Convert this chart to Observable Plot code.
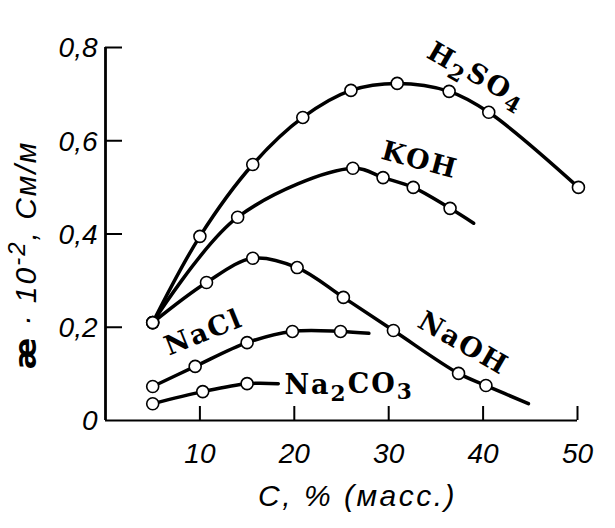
<!DOCTYPE html>
<html>
<head>
<meta charset="utf-8">
<script src="https://cdn.jsdelivr.net/npm/d3@7"></script>
<script src="https://cdn.jsdelivr.net/npm/@observablehq/plot@0.6"></script>
<style>
  html, body { margin: 0; padding: 0; background: #fff; }
  #chart { width: 615px; height: 528px; }
</style>
</head>
<body>
<div id="chart"></div>
<script>
// ---- data ----
const seriesNames = ["H2SO4", "KOH", "NaOH", "NaCl", "Na2CO3"];

const h2so4C = [5, 10, 15.6, 20.9, 26.0, 30.9, 36.4, 40.6, 50.1];
const h2so4K = [0.21, 0.395, 0.549, 0.650, 0.708, 0.723, 0.706, 0.661, 0.500];

const kohC = [5, 14.0, 26.2, 29.4, 32.6, 36.5];
const kohK = [0.21, 0.436, 0.541, 0.521, 0.500, 0.455];

const naohC = [5, 10.7, 15.6, 20.3, 25.2, 30.5, 37.4, 40.3];
const naohK = [0.21, 0.296, 0.348, 0.328, 0.264, 0.193, 0.101, 0.075];

const naclC = [5, 9.5, 15.0, 19.8, 24.9];
const naclK = [0.073, 0.116, 0.167, 0.191, 0.191];

const na2co3C = [5, 10.3, 15.0];
const na2co3K = [0.036, 0.062, 0.079];

// where each drawn curve continues past its last measured point
const lineEndC = [null, 39.0, 44.8, 27.9, 18.3];
const lineEndK = [null, 0.423, 0.036, 0.187, 0.079];

// curve labels (centre of each label)
const labelText = ["H_2SO_4", "KOH", "NaOH", "NaCl", "Na_2CO_3"];
const labelC = [39.3, 33.3, 37.9, 10.4, 25.8];
const labelK = [0.738, 0.558, 0.165, 0.189, 0.075];
const labelAngle = [30, 15, 30, -22, 0];

// axes
const xTicks = [10, 20, 30, 40, 50];
const yTicks = [0, 0.2, 0.4, 0.6, 0.8];
const xTitle = "C, % (масс.)";
const yTitle = "æ · 10^-2, См/м";

// ---- tables built from the arrays ----
const cols = [[h2so4C, h2so4K], [kohC, kohK], [naohC, naohK], [naclC, naclK], [na2co3C, na2co3K]];
const dots = [];
const lines = [];
cols.forEach(([cs, ks], i) => {
  cs.forEach((c, j) => {
    dots.push({series: seriesNames[i], C: c, K: ks[j]});
    lines.push({series: seriesNames[i], C: c, K: ks[j]});
  });
  if (lineEndC[i] != null) lines.push({series: seriesNames[i], C: lineEndC[i], K: lineEndK[i]});
});
const labels = labelText.map((t, i) => ({text: t, C: labelC[i], K: labelK[i], a: labelAngle[i]}));

const fmt = d => d === 0 ? "0" : String(d).replace(".", ",");
const sansIt = "'Liberation Sans Narrow', 'Liberation Sans', Arial, sans-serif";
const serif = "'DejaVu Serif', 'Liberation Serif', serif";

const plot = Plot.plot({
  width: 615,
  height: 528,
  marginLeft: 105,
  marginRight: 38,
  marginTop: 47,
  marginBottom: 108,
  x: {domain: [0, 50], axis: null},
  y: {domain: [0, 0.8], axis: null},
  marks: [
    // axis lines
    Plot.ruleX([0], {y1: 0, y2: 0.8, stroke: "black", strokeWidth: 2.8}),
    Plot.ruleY([0], {x1: 0, x2: 50, stroke: "black", strokeWidth: 2.2}),
    // inward ticks
    Plot.ruleY(yTicks.filter(d => d > 0), {x1: 0, x2: 1.8, stroke: "black", strokeWidth: 2}),
    Plot.ruleX(xTicks, {y1: 0, y2: 0.03, stroke: "black", strokeWidth: 2}),
    // tick labels
    Plot.text(yTicks, {x: 0, y: d => d, text: fmt, dx: -8, dy: 1, textAnchor: "end",
      fontSize: 28, fontStyle: "italic", fontFamily: sansIt, fill: "black"}),
    Plot.text(xTicks, {x: d => d, y: 0, text: d => String(d), dy: 34, fontSize: 28,
      fontStyle: "italic", fontFamily: sansIt, fill: "black"}),
    // curves
    Plot.line(lines, {x: "C", y: "K", z: "series", curve: "catmull-rom", stroke: "black", strokeWidth: 3.5}),
    Plot.dot(dots, {x: "C", y: "K", r: 6, fill: "white", stroke: "black", strokeWidth: 1.6}),
    // curve labels
    Plot.text(labels, {x: "C", y: "K", text: "text", rotate: "a", textAnchor: "middle",
      fontSize: 27, fontWeight: "bold", fontFamily: serif, fill: "black", lineAnchor: "middle"}),
    // axis titles
    Plot.text([xTitle], {frameAnchor: "bottom", text: d => d, dx: 16, dy: 76, lineAnchor: "middle",
      textAnchor: "middle", fontSize: 30, fontStyle: "italic", fontFamily: sansIt, fill: "black"}),
    Plot.text([yTitle], {frameAnchor: "left", text: d => d, rotate: -90, dx: -79, dy: 21,
      lineAnchor: "middle", textAnchor: "middle", fontSize: 30, fontStyle: "italic", fontFamily: sansIt, fill: "black"})
  ]
});

document.getElementById("chart").appendChild(plot);

// rich text: subscripts / superscripts, letter spacing
const svg = d3.select(plot);
svg.selectAll("text").each(function() {
  const el = d3.select(this);
  const t = this.textContent;
  if (labelText.includes(t)) {
    el.text("").style("letter-spacing", "2px");
    const parts = t.split(/(_\d)/).filter(s => s.length);
    let shifted = false;
    parts.forEach(p => {
      if (p.startsWith("_")) {
        el.append("tspan").attr("dy", shifted ? 0 : "0.3em").attr("font-size", "0.8em").text(p.slice(1));
        shifted = true;
      } else {
        el.append("tspan").attr("dy", shifted ? "-0.3em" : 0).text(p);
        shifted = false;
      }
    });
  } else if (t === yTitle) {
    el.text("").style("letter-spacing", "2px");
    el.append("tspan").attr("font-weight", "bold").attr("font-style", "normal")
      .attr("font-family", "'DejaVu Sans', sans-serif").text("æ");
    el.append("tspan").text(" · 10");
    el.append("tspan").attr("dy", "-0.45em").attr("font-size", "0.8em").text("-2");
    el.append("tspan").attr("dy", "0.36em").text(", См/м");
  } else if (t === xTitle) {
    el.style("letter-spacing", "2.5px");
  }
});
</script>
</body>
</html>
